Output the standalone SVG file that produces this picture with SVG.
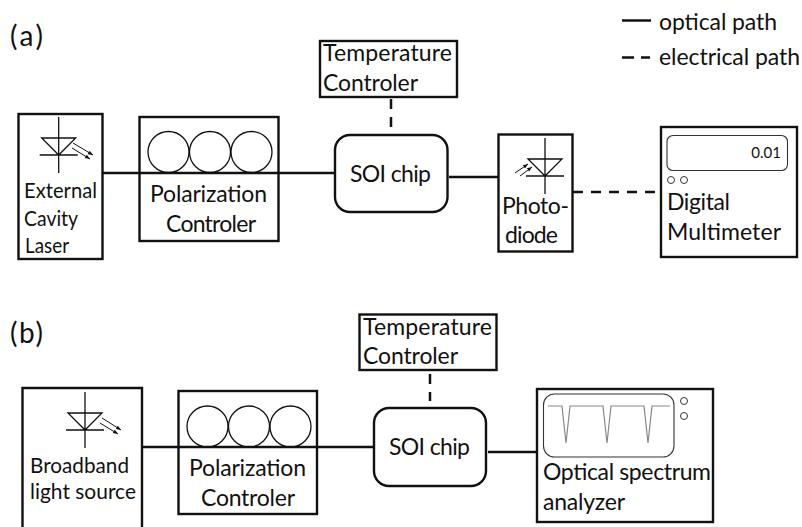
<svg xmlns="http://www.w3.org/2000/svg" width="802" height="527" viewBox="0 0 802 527">
<defs>
<marker id="ah" markerWidth="6" markerHeight="6" refX="5" refY="2" orient="auto" markerUnits="userSpaceOnUse"><path d="M0,0 L5,2 L0,4 Z" fill="#111"/></marker>
<g id="diode" class="thin"><path d="M0,-36 V20 M-17,-15 H17 L0,2 Z M-19,2 H19"/></g>
<g id="rings" class="thin"><circle cx="-41.500" cy="0" r="20.500"/><circle cx="0" cy="0" r="20.500"/><circle cx="41.500" cy="0" r="20.500"/></g>
</defs>
<style>
text{font-family:"Lato","Carlito","Open Sans",sans-serif;font-size:23px;fill:#111}
.box{fill:#fff;stroke:#111;stroke-width:2.400}
.chip{fill:#fff;stroke:#111;stroke-width:2.400}
.thin,.thin *{fill:none;stroke:#111;stroke-width:1.300}
.ray{fill:none;stroke:#111;stroke-width:1;marker-end:url(#ah)}
.conn{fill:none;stroke:#111;stroke-width:2.500}
.dash{stroke-dasharray:10 8}
.disp{fill:#fff;stroke:#333;stroke-width:1.100}
.trace{fill:none;stroke:#888;stroke-width:1.200}
.k{fill:#fff;stroke:#333;stroke-width:1}
.lab{font-size:28px}
.sm{font-size:22px}
</style>
<g id="connectors">
<path class="conn" d="M102,173 H335"/>
<path class="conn" d="M449,177 H498"/>
<path class="conn dash" d="M573,192 H661"/>
<path class="conn dash" d="M391,99 V127"/>
<path class="conn" d="M142,447 H374"/>
<path class="conn" d="M488,452 H537"/>
<path class="conn dash" d="M430,374 V401"/>
</g>
<g id="legend">
<path class="conn" d="M622,20.500 H651"/>
<path class="conn" d="M622,57.500 H634 M641,57.500 H650"/>
<text x="659" y="30" textLength="118">optical path</text>
<text x="659" y="65" textLength="141">electrical path</text>
</g>
<text class="lab" x="10" y="46" textLength="33">(a)</text>
<text class="lab" x="10" y="343" textLength="33">(b)</text>
<g id="laser">
<rect class="box" x="18.500" y="114" width="84" height="145"/>
<use href="#diode" x="58.700" y="153"/>
<path class="ray" d="M73,143 L93,155"/><path class="ray" d="M72,148 L90,159"/>
<text class="sm" x="24" y="198" textLength="73" lengthAdjust="spacingAndGlyphs">External</text><text class="sm" x="24" y="226" textLength="54" lengthAdjust="spacingAndGlyphs">Cavity</text><text class="sm" x="25" y="253" textLength="44" lengthAdjust="spacingAndGlyphs">Laser</text>
</g>
<g id="pc-a">
<rect class="box" x="139.500" y="117" width="139" height="124"/>
<path class="conn" d="M139,173 H279"/>
<use href="#rings" x="210" y="152"/>
<text x="150" y="202" textLength="117">Polarization</text>
<text x="166" y="232" textLength="90">Controler</text>
</g>
<g id="soi-a">
<rect class="chip" x="335" y="135" width="112.500" height="77" rx="15"/>
<text x="350" y="182" textLength="81">SOI chip</text>
</g>
<g id="temp-a">
<rect class="box" x="320" y="41" width="137" height="56"/>
<text x="323" y="61" textLength="129">Temperature</text><text x="323" y="91" textLength="95">Controler</text>
</g>
<g id="photodiode">
<rect class="box" x="498.500" y="134.500" width="74" height="117"/>
<use href="#diode" x="545" y="174"/>
<path class="ray" d="M515,173 L528,164"/><path class="ray" d="M520,176 L532,167"/>
<text x="502" y="214" textLength="67">Photo-</text><text x="505" y="243" textLength="53">diode</text>
</g>
<g id="multimeter">
<rect class="box" x="661" y="127" width="136" height="130"/>
<rect class="disp" x="667" y="135.500" width="120.500" height="35" rx="6"/>
<text x="781" y="158" text-anchor="end" style="font-size:15px">0.01</text>
<circle class="k" cx="671" cy="180" r="3.500"/><circle class="k" cx="684" cy="180" r="3.500"/>
<text x="667" y="210" textLength="63">Digital</text><text x="667" y="240" textLength="114">Multimeter</text>
</g>
<g id="source">
<path class="box" d="M22.500,527 V388 H142 V527"/>
<use href="#diode" x="85" y="428"/>
<path class="ray" d="M102,418 L121,430"/><path class="ray" d="M100,423 L118,434"/>
<text class="sm" x="30" y="473" textLength="99" lengthAdjust="spacingAndGlyphs">Broadband</text>
<text class="sm" x="30" y="499" textLength="106" lengthAdjust="spacingAndGlyphs">light source</text>
</g>
<g id="pc-b">
<rect class="box" x="178.500" y="391" width="138.500" height="123"/>
<path class="conn" d="M178,447 H317"/>
<use href="#rings" x="249" y="426.500"/>
<text x="189" y="476" textLength="117">Polarization</text>
<text x="201" y="506" textLength="94">Controler</text>
</g>
<g id="soi-b">
<rect class="chip" x="374" y="408" width="112" height="78" rx="15"/>
<text x="389" y="455" textLength="81">SOI chip</text>
</g>
<g id="temp-b">
<rect class="box" x="359.500" y="314.500" width="137" height="55.500"/>
<text x="363" y="335" textLength="129">Temperature</text><text x="363" y="364" textLength="95">Controler</text>
</g>
<g id="osa">
<rect class="box" x="537" y="389" width="176" height="133"/>
<rect class="disp" x="543.500" y="394" width="130.500" height="63" rx="11"/>
<path class="trace" d="M548,406 H562 L566,443 L570,406 H603 L607,443 L611,406 H644 L648,443 L652,406 H670"/>
<circle class="k" cx="684" cy="401" r="3.500"/><circle class="k" cx="684" cy="416" r="3.500"/>
<text x="543" y="480" textLength="168">Optical spectrum</text><text x="543" y="510" textLength="82">analyzer</text>
</g>
</svg>
